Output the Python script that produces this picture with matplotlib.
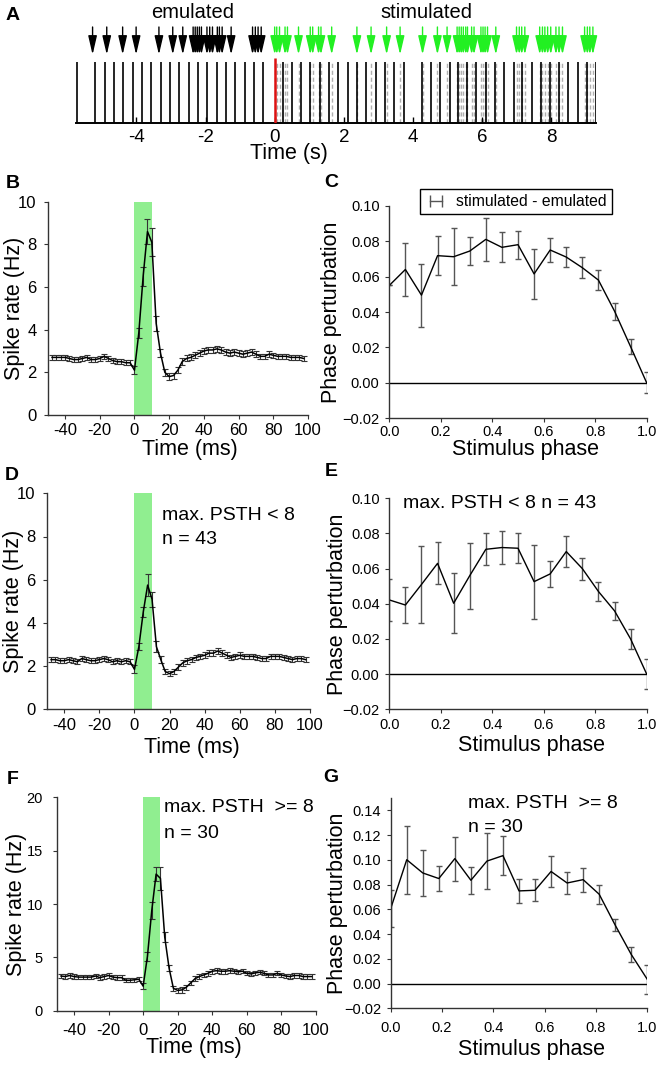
import matplotlib
matplotlib.use("Agg")
import matplotlib.pyplot as plt
import numpy as np
from matplotlib.lines import Line2D

plt.rcParams["font.family"] = ["Liberation Sans", "DejaVu Sans"]
plt.rcParams["axes.unicode_minus"] = False

W, H = 661, 1065
GREEN_BAR = "#90ee90"
GREEN_ARROW = "#22f022"

# ---- panel A: spike train and stimulus times (s) ----
spike_times = [-5.72, -5.19, -4.92, -4.65, -4.38, -4.11, -3.84, -3.57, -3.30, -3.03,
               -2.76, -2.49, -2.22, -1.95, -1.68, -1.41, -1.14, -0.87, -0.60, -0.33,
               0.23, 0.50, 0.77, 1.03, 1.31, 1.58, 1.84, 2.12, 2.38, 2.65,
               2.92, 3.19, 3.46, 3.73, 4.25, 4.52, 4.79, 5.06, 5.31, 5.58,
               5.84, 6.11, 6.38, 6.65, 6.92, 7.17, 7.44, 7.70, 7.96, 8.23,
               8.50, 8.77, 9.03, 9.29]
emulated_times = [-5.27, -4.86, -4.40, -4.01, -3.35, -2.95, -2.66, -2.36, -2.30, -2.24,
                  -2.18, -2.12, -1.96, -1.88, -1.80, -1.66, -1.60, -1.52, -1.26,
                  -0.64, -0.56, -0.48, -0.39]
stimulated_times = [0.00, 0.06, 0.14, 0.30, 0.37, 0.69, 1.03, 1.10, 1.27, 1.34,
                    1.65, 2.38, 2.79, 3.24, 3.63, 4.28, 4.71, 4.99, 5.28, 5.34,
                    5.40, 5.46, 5.53, 5.58, 5.70, 5.77, 5.97, 6.03, 6.09, 6.16,
                    6.40, 7.00, 7.08, 7.15, 7.24, 7.67, 7.75, 7.82, 7.90, 7.99,
                    8.14, 8.23, 8.33, 8.97, 9.05, 9.12, 9.21]
raster_ticks = [-4, -2, 0, 2, 4, 6, 8]
raster_labels = ["-4", "-2", "0", "2", "4", "6", "8"]

# ---- PSTH panels B, D, F (ms, Hz) ----
psth_t = np.arange(-47.5, 100, 2.5)
rate_all = [2.70, 2.70, 2.70, 2.70, 2.65, 2.60, 2.60, 2.65, 2.70, 2.60,
            2.60, 2.65, 2.75, 2.65, 2.55, 2.50, 2.50, 2.45, 2.45, 2.10,
            3.85, 6.50, 8.60, 8.10, 4.30, 2.90, 2.00, 1.80, 1.85, 2.10,
            2.50, 2.65, 2.70, 2.80, 2.90, 3.00, 3.05, 3.05, 3.10, 3.05,
            2.95, 2.90, 2.95, 2.90, 2.85, 2.90, 2.95, 2.85, 2.75, 2.75,
            2.85, 2.80, 2.75, 2.75, 2.75, 2.70, 2.70, 2.70, 2.65]
err_all = [0.12, 0.12, 0.12, 0.12, 0.12, 0.12, 0.12, 0.12, 0.12, 0.12,
           0.12, 0.12, 0.13, 0.12, 0.12, 0.12, 0.12, 0.12, 0.12, 0.20,
           0.25, 0.45, 0.60, 0.65, 0.35, 0.20, 0.15, 0.15, 0.14, 0.15,
           0.15, 0.14, 0.14, 0.14, 0.14, 0.14, 0.15, 0.15, 0.15, 0.14,
           0.13, 0.13, 0.13, 0.13, 0.13, 0.13, 0.13, 0.13, 0.13, 0.13,
           0.13, 0.13, 0.12, 0.12, 0.12, 0.12, 0.12, 0.12, 0.12]
rate_low = [2.30, 2.30, 2.25, 2.25, 2.30, 2.25, 2.20, 2.35, 2.30, 2.25,
            2.25, 2.30, 2.35, 2.30, 2.20, 2.25, 2.20, 2.25, 2.20, 1.85,
            2.90, 4.50, 5.75, 5.10, 2.90, 2.30, 1.75, 1.65, 1.75, 1.95,
            2.15, 2.25, 2.30, 2.40, 2.45, 2.50, 2.60, 2.60, 2.70, 2.60,
            2.50, 2.40, 2.45, 2.50, 2.45, 2.45, 2.45, 2.40, 2.35, 2.35,
            2.45, 2.45, 2.45, 2.40, 2.35, 2.30, 2.35, 2.35, 2.30]
err_low = [0.12, 0.12, 0.12, 0.12, 0.12, 0.12, 0.12, 0.12, 0.12, 0.12,
           0.12, 0.12, 0.12, 0.12, 0.12, 0.12, 0.12, 0.12, 0.12, 0.18,
           0.15, 0.22, 0.50, 0.35, 0.25, 0.15, 0.13, 0.13, 0.13, 0.13,
           0.13, 0.13, 0.13, 0.13, 0.13, 0.13, 0.14, 0.14, 0.15, 0.14,
           0.13, 0.13, 0.13, 0.13, 0.13, 0.13, 0.13, 0.13, 0.13, 0.13,
           0.13, 0.13, 0.12, 0.12, 0.12, 0.12, 0.12, 0.12, 0.12]
rate_high = [3.25, 3.20, 3.30, 3.20, 3.15, 3.15, 3.15, 3.15, 3.25, 3.10,
             3.20, 3.30, 3.15, 3.10, 3.10, 2.85, 2.85, 2.90, 2.95, 2.30,
             5.10, 9.40, 12.80, 12.40, 6.90, 4.00, 2.10, 1.90, 1.95, 2.20,
             2.60, 3.00, 3.20, 3.35, 3.50, 3.70, 3.75, 3.70, 3.70, 3.75,
             3.70, 3.65, 3.70, 3.50, 3.45, 3.55, 3.60, 3.50, 3.35, 3.35,
             3.50, 3.35, 3.25, 3.20, 3.30, 3.30, 3.20, 3.20, 3.20]
err_high = [0.20, 0.20, 0.20, 0.20, 0.20, 0.20, 0.20, 0.20, 0.20, 0.20,
            0.20, 0.20, 0.20, 0.20, 0.20, 0.20, 0.20, 0.20, 0.20, 0.30,
            0.40, 0.80, 0.65, 1.10, 0.50, 0.30, 0.25, 0.25, 0.25, 0.25,
            0.22, 0.22, 0.22, 0.22, 0.22, 0.22, 0.22, 0.22, 0.22, 0.22,
            0.20, 0.20, 0.20, 0.20, 0.20, 0.20, 0.20, 0.20, 0.20, 0.20,
            0.20, 0.20, 0.20, 0.20, 0.20, 0.20, 0.20, 0.20, 0.20]
psth_xticks = [-40, -20, 0, 20, 40, 60, 80, 100]
psth_xlabels = ["-40", "-20", "0", "20", "40", "60", "80", "100"]

# ---- phase response panels C, E, G ----
phase = np.arange(17) / 16
prc_all = [0.055, 0.064, 0.0495, 0.0718, 0.0712, 0.0744, 0.081, 0.0765, 0.078,
           0.0615, 0.075, 0.071, 0.065, 0.058, 0.0405, 0.0204, 0.0]
prc_all_err = [0.0, 0.015, 0.0177, 0.011, 0.016, 0.008, 0.012, 0.0085, 0.008,
               0.014, 0.007, 0.0055, 0.006, 0.0055, 0.0048, 0.0042, 0.006]
prc_low = [0.0422, 0.0393, 0.051, 0.063, 0.0403, 0.056, 0.071, 0.072, 0.0716,
           0.0526, 0.057, 0.0697, 0.060, 0.047, 0.036, 0.020, 0.0]
prc_low_err = [0.012, 0.0105, 0.022, 0.012, 0.017, 0.0187, 0.009, 0.0094, 0.0085,
               0.021, 0.0073, 0.009, 0.0062, 0.0054, 0.0052, 0.0056, 0.0085]
prc_high = [0.0606, 0.1001, 0.0894, 0.0849, 0.101, 0.0835, 0.099, 0.1034, 0.0749,
            0.0754, 0.0906, 0.0813, 0.084, 0.0722, 0.0472, 0.0235, 0.0034]
prc_high_err = [0.015, 0.0275, 0.0184, 0.0104, 0.0178, 0.0107, 0.0228, 0.016, 0.0098,
                0.009, 0.0128, 0.0087, 0.0097, 0.0075, 0.005, 0.006, 0.012]
phase_xticks = [0.0, 0.2, 0.4, 0.6, 0.8, 1.0]
phase_xlabels = ["0.0", "0.2", "0.4", "0.6", "0.8", "1.0"]
prc_yticks = [-0.02, 0.0, 0.02, 0.04, 0.06, 0.08, 0.10]
prc_ylabels = ["\u22120.02", "0.00", "0.02", "0.04", "0.06", "0.08", "0.10"]
prc_high_yticks = [-0.02, 0.0, 0.02, 0.04, 0.06, 0.08, 0.10, 0.12, 0.14]
prc_high_ylabels = ["\u22120.02", "0.00", "0.02", "0.04", "0.06", "0.08", "0.10", "0.12", "0.14"]

fig = plt.figure(figsize=(W / 100, H / 100), dpi=100)


def px_axes(l, t, r, b):
	return fig.add_axes([l / W, 1 - b / H, (r - l) / W, (b - t) / H])


def fig_text(x, y, s, **kw):
	kw.setdefault("ha", "center")
	kw.setdefault("va", "center")
	fig.text(x / W, 1 - y / H, s, **kw)


def style(ax, xsize, ysize, xpad, ypad):
	for s in ("top", "right"):
		ax.spines[s].set_visible(False)
	for s in ("left", "bottom"):
		ax.spines[s].set_color("#333333")
		ax.spines[s].set_linewidth(1.0)
	ax.tick_params(direction="out", length=3, width=0.8, color="#333333")
	ax.tick_params(axis="x", labelsize=xsize, pad=xpad)
	ax.tick_params(axis="y", labelsize=ysize, pad=ypad)


def psth_panel(ax, rate, err, ymax, yticks, ylabels):
	ax.axvspan(0, 10, color=GREEN_BAR, lw=0, zorder=0)
	ax.errorbar(psth_t, rate, yerr=err, color="black", lw=1.1, ecolor="#333333",
				elinewidth=0.8, capsize=2.0, capthick=0.8)
	ax.set_xlim(-50, 100)
	ax.set_ylim(0, ymax)
	ax.set_xticks(psth_xticks, psth_xlabels)
	ax.set_yticks(yticks, ylabels)


def phase_panel(ax, val, err, ymax, yticks, ylabels):
	ax.axhline(0, color="black", lw=1.0)
	ax.errorbar(phase, val, yerr=err, color="black", lw=1.0, ecolor="#555555",
				elinewidth=1.0, capsize=2.4, capthick=1.0)
	ax.set_xlim(0, 1)
	ax.set_ylim(-0.02, ymax)
	ax.set_xticks(phase_xticks, phase_xlabels)
	ax.set_yticks(yticks, ylabels)


# ---- A ----
ax_a = px_axes(76, 23, 596, 123)
ax_a.vlines(stimulated_times, 0, 0.61, colors="#b0b0b0", linestyles=(0, (3, 2)), lw=1.0, zorder=1)
ax_a.vlines(spike_times, 0, 0.61, colors="black", lw=1.2, zorder=2)
ax_a.vlines([0], 0, 0.65, colors="#dd1111", lw=1.8, zorder=3)
for t in emulated_times:
	ax_a.annotate("", xy=(t, 0.683), xytext=(t, 0.96),
				  arrowprops=dict(arrowstyle="-|>,head_length=0.95,head_width=0.22",
								  color="black", lw=1.0, shrinkA=0, shrinkB=0,
								  mutation_scale=12))
for t in stimulated_times:
	ax_a.annotate("", xy=(t, 0.683), xytext=(t, 0.96),
				  arrowprops=dict(arrowstyle="-|>,head_length=0.95,head_width=0.22",
								  color=GREEN_ARROW, lw=1.0, shrinkA=0, shrinkB=0,
								  mutation_scale=12))
ax_a.set_xlim(-5.75, 9.3)
ax_a.set_ylim(0, 1)
for s in ("top", "right", "left"):
	ax_a.spines[s].set_visible(False)
ax_a.spines["bottom"].set_linewidth(1.4)
ax_a.set_yticks([])
ax_a.set_xticks(raster_ticks, raster_labels)
ax_a.tick_params(axis="x", direction="in", length=4, width=1, labelsize=13.5, pad=4)
fig_text(193, 13, "emulated", fontsize=14.5)
fig_text(426, 13, "stimulated", fontsize=14.5)
fig_text(289, 154, "Time (s)", fontsize=15.5)

# ---- B ----
ax_b = px_axes(47.7, 201.7, 308, 415)
psth_panel(ax_b, rate_all, err_all, 10, [0, 2, 4, 6, 8, 10], ["0", "2", "4", "6", "8", "10"])
style(ax_b, 12, 12, 2.5, 5)

# ---- C ----
ax_c = px_axes(389.3, 205.7, 646.7, 418.3)
phase_panel(ax_c, prc_all, prc_all_err, 0.10, prc_yticks, prc_ylabels)
style(ax_c, 10.5, 10.5, 2, 4)
handle = Line2D([], [], color="#555555", marker="|", markersize=8, lw=1.0, markeredgewidth=1.0)
leg = ax_c.legend([handle], ["stimulated - emulated"], loc="center",
				  bbox_to_anchor=(516 / W, 1 - 201.5 / H), bbox_transform=fig.transFigure,
				  numpoints=2, handlelength=1.4, handletextpad=0.6, borderpad=0.3,
				  fancybox=False, framealpha=1, edgecolor="black", fontsize=11.3)
leg.get_frame().set_linewidth(1.0)

# ---- D ----
ax_d = px_axes(46.7, 493.3, 310, 709.3)
psth_panel(ax_d, rate_low, err_low, 10, [0, 2, 4, 6, 8, 10], ["0", "2", "4", "6", "8", "10"])
style(ax_d, 12, 12, 3.5, 5)
fig_text(161.7, 515, "max. PSTH < 8", fontsize=14, ha="left")
fig_text(161.7, 540, "n = 43", fontsize=14, ha="left")

# ---- E ----
ax_e = px_axes(389.3, 498.3, 646.7, 709.3)
phase_panel(ax_e, prc_low, prc_low_err, 0.10, prc_yticks, prc_ylabels)
style(ax_e, 10.5, 10.5, 3, 4)
fig_text(402.7, 503, "max. PSTH < 8 n = 43", fontsize=14, ha="left")

# ---- F ----
ax_f = px_axes(56.7, 797.3, 316, 1010.7)
psth_panel(ax_f, rate_high, err_high, 20, [0, 5, 10, 15, 20], ["0", "5", "10", "15", "20"])
style(ax_f, 12, 10.5, 6, 7)
fig_text(164, 808, "max. PSTH  >= 8", fontsize=14, ha="left")
fig_text(164, 833, "n = 30", fontsize=14, ha="left")

# ---- G ----
ax_g = px_axes(390.7, 798, 647.3, 1008.3)
phase_panel(ax_g, prc_high, prc_high_err, 0.15, prc_high_yticks, prc_high_ylabels)
style(ax_g, 10.5, 10.5, 6, 4)
fig_text(468.3, 803, "max. PSTH  >= 8", fontsize=14, ha="left")
fig_text(468.3, 827, "n = 30", fontsize=14, ha="left")

# ---- axis labels ----
for x, y in [(190, 450), (192, 748), (194, 1048)]:
	fig_text(x, y, "Time (ms)", fontsize=15.5)
for x, y in [(525, 449), (532, 746), (532, 1050)]:
	fig_text(x, y, "Stimulus phase", fontsize=15.5)
for x, y in [(15, 308), (14, 601), (17, 904)]:
	fig_text(x, y, "Spike rate (Hz)", fontsize=15.5, rotation=90)
for x, y in [(332, 312), (337, 604), (337, 903)]:
	fig_text(x, y, "Phase perturbation", fontsize=15.5, rotation=90)

# ---- panel letters ----
for letter, x, y in [("A", 13, 15), ("B", 13, 183), ("C", 331, 182), ("D", 12, 475),
					 ("E", 331, 472), ("F", 13, 780), ("G", 331, 778)]:
	fig_text(x, y, letter, fontsize=14, fontweight="bold")

fig.savefig("out.png", dpi=100)
